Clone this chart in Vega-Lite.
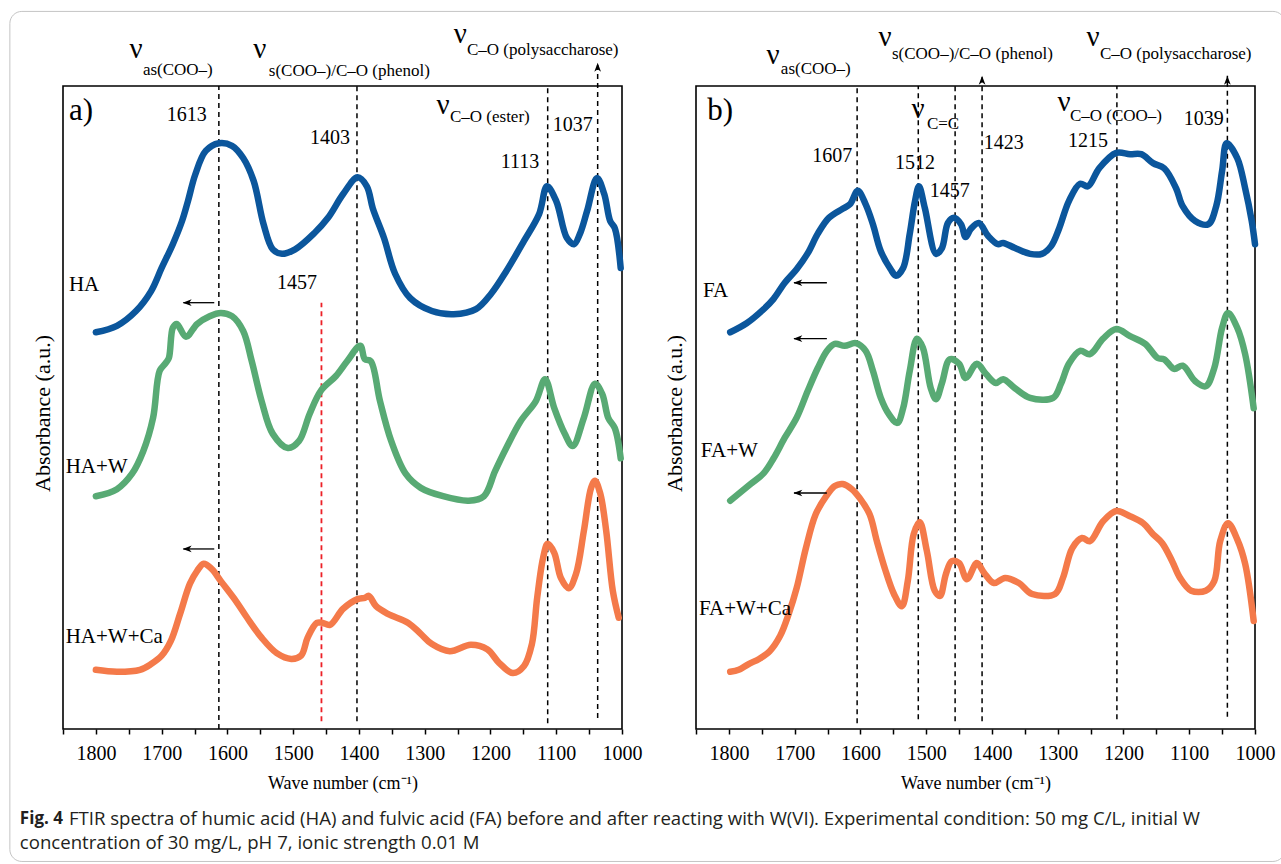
{
  "$schema": "https://vega.github.io/schema/vega-lite/v6.json",
  "background": "white",
  "padding": {"left": 8, "top": 10, "right": 0, "bottom": 0},
  "autosize": {"type": "pad"},
  "spacing": 74,
  "bounds": "flush",
  "config": {
    "view": {"stroke": "black", "strokeWidth": 1.6},
    "text": {"font": "Liberation Serif", "color": "black"}
  },
  "hconcat": [
    {
      "width": 559,
      "height": 643,
      "encoding": {
        "x": {"field": "w", "type": "quantitative", "scale": {"domain": [1000, 1850], "reverse": true, "nice": false, "zero": false},
          "axis": {"title": "Wave number (cm⁻¹)", "values": [1000,1050,1100,1150,1200,1250,1300,1350,1400,1450,1500,1550,1600,1650,1700,1750,1800,1850], "format": "d", "labelExpr": "datum.value % 100 === 0 ? datum.label : ''", "grid": false, "domain": false, "tickSize": 5, "tickWidth": 1.5, "tickColor": "black", "labelFont": "Liberation Serif", "labelFontSize": 20, "labelColor": "black", "labelPadding": 9, "labelFlush": false, "labelOverlap": false, "titleFont": "Liberation Serif", "titleFontSize": 18, "titleFontWeight": "normal", "titleColor": "black", "titleY": 54, "titleBaseline": "middle"}},
        "y": {"field": "v", "type": "quantitative", "scale": {"domain": [0, 100], "nice": false, "zero": false},
          "axis": {"title": "Absorbance (a.u.)", "labels": false, "ticks": false, "domain": false, "grid": false, "titleX": -21, "titleY": 327, "titleAngle": -90, "titleAlign": "center", "titleBaseline": "middle", "titleFont": "Liberation Serif", "titleFontSize": 22, "titleFontWeight": "normal", "titleColor": "black"}}
      },
      "layer": [
        {
          "data": {"values": [{"w": 1930.8, "w2": -8, "v": 111.6, "v2": -20.6}]},
          "mark": {"type": "rect", "fill": "transparent", "stroke": "#c4c4c4", "strokeWidth": 1, "cornerRadius": 12},
          "encoding": {"x2": {"field": "w2"}, "y2": {"field": "v2"}}
        },
        {
          "data": {"values": [
            {"w": 1613, "v": 0, "v2": 100}, {"w": 1403, "v": 1.2, "v2": 100}, {"w": 1113, "v": 0.9, "v2": 100}, {"w": 1037, "v": 1.7, "v2": 103.6}
          ]},
          "mark": {"type": "rule", "color": "black", "strokeWidth": 1.5, "strokeDash": [5, 4]},
          "encoding": {"y2": {"field": "v2"}}
        },
        {
          "data": {"values": [{"w": 1457, "v": 1.2, "v2": 66.3}]},
          "mark": {"type": "rule", "color": "#ec2027", "strokeWidth": 1.8, "strokeDash": [5, 4]},
          "encoding": {"y2": {"field": "v2"}}
        },
        {
          "data": {"values": [
            {"s":"HA","w":1800,"v":61.7},{"s":"HA","w":1768,"v":62.7},{"s":"HA","w":1739,"v":65.0},{"s":"HA","w":1716,"v":68.1},{"s":"HA","w":1700,"v":71.7},{"s":"HA","w":1683,"v":75.4},{"s":"HA","w":1669,"v":79.0},{"s":"HA","w":1660,"v":82.1},{"s":"HA","w":1649,"v":86.2},{"s":"HA","w":1633,"v":89.9},{"s":"HA","w":1613,"v":91.1},{"s":"HA","w":1593,"v":90.7},{"s":"HA","w":1576,"v":88.8},{"s":"HA","w":1560,"v":85.2},{"s":"HA","w":1545,"v":78.5},{"s":"HA","w":1531,"v":74.6},{"s":"HA","w":1517,"v":73.9},{"s":"HA","w":1497,"v":74.6},{"s":"HA","w":1468,"v":77.1},{"s":"HA","w":1447,"v":79.5},{"s":"HA","w":1424,"v":83.2},{"s":"HA","w":1402,"v":85.8},{"s":"HA","w":1388,"v":84.4},{"s":"HA","w":1379,"v":81.0},{"s":"HA","w":1362,"v":76.4},{"s":"HA","w":1345,"v":70.8},{"s":"HA","w":1322,"v":67.0},{"s":"HA","w":1289,"v":65.0},{"s":"HA","w":1256,"v":64.5},{"s":"HA","w":1222,"v":65.3},{"s":"HA","w":1199,"v":67.7},{"s":"HA","w":1176,"v":71.2},{"s":"HA","w":1149,"v":75.9},{"s":"HA","w":1126,"v":80.1},{"s":"HA","w":1114,"v":84.4},{"s":"HA","w":1100,"v":82.1},{"s":"HA","w":1084,"v":76.4},{"s":"HA","w":1073,"v":75.4},{"s":"HA","w":1064,"v":77.0},{"s":"HA","w":1053,"v":80.6},{"s":"HA","w":1038,"v":85.7},{"s":"HA","w":1027,"v":83.2},{"s":"HA","w":1018,"v":79.0},{"s":"HA","w":1011,"v":77.9},{"s":"HA","w":1002,"v":71.7},
            {"s":"HA+W","w":1800,"v":36.2},{"s":"HA+W","w":1768,"v":37.3},{"s":"HA+W","w":1745,"v":39.7},{"s":"HA+W","w":1728,"v":43.2},{"s":"HA+W","w":1713,"v":48.4},{"s":"HA+W","w":1703,"v":55.7},{"s":"HA+W","w":1694,"v":56.9},{"s":"HA+W","w":1689,"v":57.7},{"s":"HA+W","w":1683,"v":62.4},{"s":"HA+W","w":1677,"v":63.0},{"s":"HA+W","w":1663,"v":61.0},{"s":"HA+W","w":1646,"v":63.0},{"s":"HA+W","w":1627,"v":64.2},{"s":"HA+W","w":1610,"v":64.7},{"s":"HA+W","w":1593,"v":64.2},{"s":"HA+W","w":1576,"v":61.9},{"s":"HA+W","w":1563,"v":57.2},{"s":"HA+W","w":1548,"v":51.0},{"s":"HA+W","w":1531,"v":45.9},{"s":"HA+W","w":1508,"v":43.7},{"s":"HA+W","w":1491,"v":44.8},{"s":"HA+W","w":1475,"v":49.0},{"s":"HA+W","w":1458,"v":52.6},{"s":"HA+W","w":1435,"v":54.9},{"s":"HA+W","w":1418,"v":57.2},{"s":"HA+W","w":1398,"v":59.6},{"s":"HA+W","w":1391,"v":57.5},{"s":"HA+W","w":1382,"v":57.2},{"s":"HA+W","w":1368,"v":51.0},{"s":"HA+W","w":1351,"v":44.8},{"s":"HA+W","w":1329,"v":39.7},{"s":"HA+W","w":1306,"v":37.5},{"s":"HA+W","w":1272,"v":36.2},{"s":"HA+W","w":1233,"v":35.5},{"s":"HA+W","w":1210,"v":36.2},{"s":"HA+W","w":1193,"v":40.1},{"s":"HA+W","w":1176,"v":43.7},{"s":"HA+W","w":1154,"v":47.9},{"s":"HA+W","w":1131,"v":51.0},{"s":"HA+W","w":1117,"v":54.4},{"s":"HA+W","w":1103,"v":49.9},{"s":"HA+W","w":1087,"v":45.9},{"s":"HA+W","w":1075,"v":44.0},{"s":"HA+W","w":1058,"v":48.4},{"s":"HA+W","w":1041,"v":53.7},{"s":"HA+W","w":1030,"v":52.1},{"s":"HA+W","w":1021,"v":48.4},{"s":"HA+W","w":1011,"v":46.8},{"s":"HA+W","w":1002,"v":42.1},
            {"s":"HA+W+Ca","w":1800,"v":9.2},{"s":"HA+W+Ca","w":1768,"v":8.9},{"s":"HA+W+Ca","w":1733,"v":9.2},{"s":"HA+W+Ca","w":1716,"v":10.1},{"s":"HA+W+Ca","w":1700,"v":11.4},{"s":"HA+W+Ca","w":1686,"v":13.7},{"s":"HA+W+Ca","w":1672,"v":17.9},{"s":"HA+W+Ca","w":1657,"v":22.6},{"s":"HA+W+Ca","w":1646,"v":24.6},{"s":"HA+W+Ca","w":1636,"v":25.7},{"s":"HA+W+Ca","w":1624,"v":24.9},{"s":"HA+W+Ca","w":1610,"v":23.0},{"s":"HA+W+Ca","w":1587,"v":19.9},{"s":"HA+W+Ca","w":1570,"v":17.3},{"s":"HA+W+Ca","w":1548,"v":14.2},{"s":"HA+W+Ca","w":1525,"v":11.8},{"s":"HA+W+Ca","w":1503,"v":10.9},{"s":"HA+W+Ca","w":1488,"v":11.4},{"s":"HA+W+Ca","w":1478,"v":14.2},{"s":"HA+W+Ca","w":1464,"v":16.5},{"s":"HA+W+Ca","w":1455,"v":16.5},{"s":"HA+W+Ca","w":1444,"v":16.2},{"s":"HA+W+Ca","w":1424,"v":18.7},{"s":"HA+W+Ca","w":1402,"v":20.2},{"s":"HA+W+Ca","w":1391,"v":20.4},{"s":"HA+W+Ca","w":1385,"v":20.7},{"s":"HA+W+Ca","w":1374,"v":19.1},{"s":"HA+W+Ca","w":1356,"v":17.9},{"s":"HA+W+Ca","w":1325,"v":16.5},{"s":"HA+W+Ca","w":1306,"v":14.8},{"s":"HA+W+Ca","w":1289,"v":13.2},{"s":"HA+W+Ca","w":1262,"v":12.1},{"s":"HA+W+Ca","w":1230,"v":13.1},{"s":"HA+W+Ca","w":1205,"v":12.4},{"s":"HA+W+Ca","w":1187,"v":10.3},{"s":"HA+W+Ca","w":1166,"v":8.7},{"s":"HA+W+Ca","w":1149,"v":9.8},{"s":"HA+W+Ca","w":1137,"v":13.2},{"s":"HA+W+Ca","w":1129,"v":20.4},{"s":"HA+W+Ca","w":1120,"v":26.6},{"s":"HA+W+Ca","w":1113,"v":28.8},{"s":"HA+W+Ca","w":1103,"v":27.4},{"s":"HA+W+Ca","w":1093,"v":23.5},{"s":"HA+W+Ca","w":1081,"v":21.9},{"s":"HA+W+Ca","w":1070,"v":24.1},{"s":"HA+W+Ca","w":1058,"v":30.8},{"s":"HA+W+Ca","w":1047,"v":37.5},{"s":"HA+W+Ca","w":1041,"v":38.6},{"s":"HA+W+Ca","w":1033,"v":36.6},{"s":"HA+W+Ca","w":1024,"v":30.8},{"s":"HA+W+Ca","w":1014,"v":21.5},{"s":"HA+W+Ca","w":1005,"v":17.3}
          ]},
          "mark": {"type": "line", "strokeWidth": 6.5, "interpolate": "catmull-rom", "strokeCap": "round", "strokeJoin": "round"},
          "encoding": {"color": {"field": "s", "type": "nominal", "legend": null, "scale": {"domain": ["HA", "HA+W", "HA+W+Ca"], "range": ["#0b569c", "#58aa74", "#f47a4a"]}}}
        },
        {
          "data": {"values": [{"w": 1667, "w2": 1620, "v": 66.3}, {"w": 1667, "w2": 1620, "v": 28.0}, {"w": 1037, "w2": 1037, "v": 103.6}]},
          "mark": {"type": "rule", "color": "black", "strokeWidth": 1.3},
          "encoding": {"x2": {"field": "w2"}}
        },
        {
          "data": {"values": [{"w": 1668, "v": 66.3}, {"w": 1668, "v": 28.0}]},
          "mark": {"type": "point", "shape": "M0,0L2,-0.75L1.45,0L2,0.75Z", "size": 80, "filled": true, "color": "black", "opacity": 1}
        },
        {
          "data": {"values": [{"w": 1037, "v": 103.6}]},
          "mark": {"type": "point", "shape": "M0,0L-0.75,2L0,1.45L0.75,2Z", "size": 80, "filled": true, "color": "black", "opacity": 1}
        },
        {
          "data": {"values": [{"w": 1662, "v": 95.5, "t": "1613"}, {"w": 1444, "v": 91.9, "t": "1403"}, {"w": 1155, "v": 88.2, "t": "1113"}, {"w": 1075, "v": 93.9, "t": "1037"}, {"w": 1494, "v": 69.4, "t": "1457"}]},
          "mark": {"type": "text", "font": "Liberation Serif", "fontSize": 20, "align": "center", "baseline": "middle"},
          "encoding": {"text": {"field": "t", "type": "nominal"}}
        },
        {
          "data": {"values": [{"w": 1841, "v": 69.1, "t": "HA"}, {"w": 1846, "v": 40.7, "t": "HA+W"}, {"w": 1846, "v": 14.3, "t": "HA+W+Ca"}]},
          "mark": {"type": "text", "font": "Liberation Serif", "fontSize": 21, "align": "left", "baseline": "middle"},
          "encoding": {"text": {"field": "t", "type": "nominal"}}
        },
        {
          "data": {"values": [{"w": 1841, "v": 96.1, "t": "a)"}]},
          "mark": {"type": "text", "font": "Liberation Serif", "fontSize": 31, "align": "left", "baseline": "middle"},
          "encoding": {"text": {"field": "t", "type": "nominal"}}
        },
        {
          "data": {"values": [{"w": 1739, "v": 104.4, "t": "ν"}, {"w": 1550.6, "v": 104.4, "t": "ν"}, {"w": 1246, "v": 106.7, "t": "ν"}, {"w": 1272, "v": 95.6, "t": "ν"}]},
          "mark": {"type": "text", "font": "Liberation Serif", "fontSize": 29, "align": "center", "baseline": "alphabetic"},
          "encoding": {"text": {"field": "t", "type": "nominal"}}
        },
        {
          "data": {"values": [{"w": 1728.5, "v": 101.7, "t": "as(COO–)"}, {"w": 1537, "v": 101.6, "t": "s(COO–)/C–O (phenol)"}, {"w": 1235.7, "v": 104.8, "t": "C–O (polysaccharose)"}, {"w": 1261.6, "v": 94.4, "t": "C–O (ester)"}]},
          "mark": {"type": "text", "font": "Liberation Serif", "fontSize": 17, "align": "left", "baseline": "alphabetic"},
          "encoding": {"text": {"field": "t", "type": "nominal"}}
        },
        {
          "data": {"values": [{"w": 1915.6, "v": -14.0, "t": "Fig. 4"}]},
          "mark": {"type": "text", "font": "Open Sans", "fontWeight": "bold", "fontSize": 17, "align": "left", "baseline": "middle", "color": "#231f20"},
          "encoding": {"text": {"field": "t", "type": "nominal"}}
        },
        {
          "data": {"values": [{"w": 1841, "v": -14.0, "t": "FTIR spectra of humic acid (HA) and fulvic acid (FA) before and after reacting with W(VI). Experimental condition: 50 mg C/L, initial W"}, {"w": 1915.6, "v": -17.8, "t": "concentration of 30 mg/L, pH 7, ionic strength 0.01 M"}]},
          "mark": {"type": "text", "font": "Open Sans", "fontSize": 18.6, "align": "left", "baseline": "middle", "color": "#231f20"},
          "encoding": {"text": {"field": "t", "type": "nominal"}}
        }
      ]
    },
    {
      "width": 559,
      "height": 643,
      "encoding": {
        "x": {"field": "w", "type": "quantitative", "scale": {"domain": [1000, 1850], "reverse": true, "nice": false, "zero": false},
          "axis": {"title": "Wave number (cm⁻¹)", "values": [1000,1050,1100,1150,1200,1250,1300,1350,1400,1450,1500,1550,1600,1650,1700,1750,1800,1850], "format": "d", "labelExpr": "datum.value % 100 === 0 ? datum.label : ''", "grid": false, "domain": false, "tickSize": 5, "tickWidth": 1.5, "tickColor": "black", "labelFont": "Liberation Serif", "labelFontSize": 20, "labelColor": "black", "labelPadding": 9, "labelFlush": false, "labelOverlap": false, "titleFont": "Liberation Serif", "titleFontSize": 18, "titleFontWeight": "normal", "titleColor": "black", "titleY": 54, "titleBaseline": "middle"}},
        "y": {"field": "v", "type": "quantitative", "scale": {"domain": [0, 100], "nice": false, "zero": false},
          "axis": {"title": "Absorbance (a.u.)", "labels": false, "ticks": false, "domain": false, "grid": false, "titleX": -22, "titleY": 327, "titleAngle": -90, "titleAlign": "center", "titleBaseline": "middle", "titleFont": "Liberation Serif", "titleFontSize": 22, "titleFontWeight": "normal", "titleColor": "black"}}
      },
      "layer": [
        {
          "data": {"values": [
            {"w": 1605, "v": 0.9, "v2": 100}, {"w": 1512, "v": 1.5, "v2": 100}, {"w": 1456, "v": 1.2, "v2": 100}, {"w": 1415, "v": 1.2, "v2": 101.6}, {"w": 1210, "v": 1.5, "v2": 100}, {"w": 1042, "v": 1.9, "v2": 101.6}
          ]},
          "mark": {"type": "rule", "color": "black", "strokeWidth": 1.5, "strokeDash": [5, 4]},
          "encoding": {"y2": {"field": "v2"}}
        },
        {
          "data": {"values": [
            {"s":"FA","w":1798,"v":61.7},{"s":"FA","w":1773,"v":63.1},{"s":"FA","w":1747,"v":65.3},{"s":"FA","w":1732,"v":66.9},{"s":"FA","w":1715,"v":69.4},{"s":"FA","w":1697,"v":71.5},{"s":"FA","w":1680,"v":74.0},{"s":"FA","w":1665,"v":77.0},{"s":"FA","w":1648,"v":79.5},{"s":"FA","w":1627,"v":80.9},{"s":"FA","w":1616,"v":81.6},{"s":"FA","w":1604,"v":83.7},{"s":"FA","w":1592,"v":81.6},{"s":"FA","w":1581,"v":78.5},{"s":"FA","w":1569,"v":74.3},{"s":"FA","w":1554,"v":71.5},{"s":"FA","w":1546,"v":70.5},{"s":"FA","w":1535,"v":71.7},{"s":"FA","w":1525,"v":77.0},{"s":"FA","w":1517,"v":82.1},{"s":"FA","w":1511,"v":84.4},{"s":"FA","w":1502,"v":81.0},{"s":"FA","w":1485,"v":73.9},{"s":"FA","w":1476,"v":74.8},{"s":"FA","w":1467,"v":78.7},{"s":"FA","w":1458,"v":79.5},{"s":"FA","w":1447,"v":78.5},{"s":"FA","w":1440,"v":76.5},{"s":"FA","w":1432,"v":77.8},{"s":"FA","w":1420,"v":78.7},{"s":"FA","w":1406,"v":76.7},{"s":"FA","w":1391,"v":75.4},{"s":"FA","w":1383,"v":75.6},{"s":"FA","w":1365,"v":74.8},{"s":"FA","w":1342,"v":73.9},{"s":"FA","w":1324,"v":73.9},{"s":"FA","w":1310,"v":75.1},{"s":"FA","w":1298,"v":77.8},{"s":"FA","w":1283,"v":82.1},{"s":"FA","w":1266,"v":84.8},{"s":"FA","w":1254,"v":84.4},{"s":"FA","w":1237,"v":87.2},{"s":"FA","w":1211,"v":89.6},{"s":"FA","w":1190,"v":89.4},{"s":"FA","w":1173,"v":89.4},{"s":"FA","w":1155,"v":88.0},{"s":"FA","w":1138,"v":87.2},{"s":"FA","w":1120,"v":84.1},{"s":"FA","w":1110,"v":81.3},{"s":"FA","w":1091,"v":79.0},{"s":"FA","w":1071,"v":78.5},{"s":"FA","w":1059,"v":81.3},{"s":"FA","w":1050,"v":86.8},{"s":"FA","w":1043,"v":91.1},{"s":"FA","w":1027,"v":88.8},{"s":"FA","w":1015,"v":84.1},{"s":"FA","w":1005,"v":79.0},{"s":"FA","w":1000,"v":75.4},
            {"s":"FA+W","w":1798,"v":35.5},{"s":"FA+W","w":1767,"v":38.1},{"s":"FA+W","w":1747,"v":39.8},{"s":"FA+W","w":1732,"v":42.1},{"s":"FA+W","w":1715,"v":45.3},{"s":"FA+W","w":1697,"v":48.4},{"s":"FA+W","w":1680,"v":52.6},{"s":"FA+W","w":1665,"v":56.1},{"s":"FA+W","w":1651,"v":58.8},{"s":"FA+W","w":1639,"v":59.9},{"s":"FA+W","w":1624,"v":59.6},{"s":"FA+W","w":1607,"v":60.0},{"s":"FA+W","w":1592,"v":58.8},{"s":"FA+W","w":1581,"v":55.7},{"s":"FA+W","w":1569,"v":51.5},{"s":"FA+W","w":1557,"v":49.0},{"s":"FA+W","w":1544,"v":47.6},{"s":"FA+W","w":1535,"v":49.9},{"s":"FA+W","w":1525,"v":55.7},{"s":"FA+W","w":1514,"v":60.7},{"s":"FA+W","w":1505,"v":59.3},{"s":"FA+W","w":1493,"v":53.0},{"s":"FA+W","w":1485,"v":51.3},{"s":"FA+W","w":1476,"v":53.8},{"s":"FA+W","w":1464,"v":57.5},{"s":"FA+W","w":1450,"v":56.8},{"s":"FA+W","w":1440,"v":54.6},{"s":"FA+W","w":1423,"v":56.8},{"s":"FA+W","w":1409,"v":55.2},{"s":"FA+W","w":1394,"v":53.8},{"s":"FA+W","w":1383,"v":54.4},{"s":"FA+W","w":1365,"v":53.0},{"s":"FA+W","w":1342,"v":51.5},{"s":"FA+W","w":1307,"v":51.5},{"s":"FA+W","w":1295,"v":53.7},{"s":"FA+W","w":1283,"v":56.8},{"s":"FA+W","w":1266,"v":58.8},{"s":"FA+W","w":1251,"v":58.3},{"s":"FA+W","w":1231,"v":60.7},{"s":"FA+W","w":1211,"v":62.2},{"s":"FA+W","w":1190,"v":61.1},{"s":"FA+W","w":1167,"v":59.9},{"s":"FA+W","w":1148,"v":57.7},{"s":"FA+W","w":1138,"v":57.5},{"s":"FA+W","w":1123,"v":56.0},{"s":"FA+W","w":1110,"v":56.5},{"s":"FA+W","w":1091,"v":54.1},{"s":"FA+W","w":1075,"v":53.3},{"s":"FA+W","w":1062,"v":56.1},{"s":"FA+W","w":1050,"v":62.4},{"s":"FA+W","w":1041,"v":64.7},{"s":"FA+W","w":1027,"v":62.4},{"s":"FA+W","w":1015,"v":58.3},{"s":"FA+W","w":1002,"v":49.9},
            {"s":"FA+W+Ca","w":1798,"v":8.9},{"s":"FA+W+Ca","w":1785,"v":9.2},{"s":"FA+W+Ca","w":1770,"v":10.1},{"s":"FA+W+Ca","w":1754,"v":10.9},{"s":"FA+W+Ca","w":1738,"v":12.1},{"s":"FA+W+Ca","w":1722,"v":14.5},{"s":"FA+W+Ca","w":1709,"v":17.9},{"s":"FA+W+Ca","w":1697,"v":21.9},{"s":"FA+W+Ca","w":1683,"v":28.1},{"s":"FA+W+Ca","w":1668,"v":33.4},{"s":"FA+W+Ca","w":1652,"v":36.2},{"s":"FA+W+Ca","w":1639,"v":37.8},{"s":"FA+W+Ca","w":1627,"v":38.1},{"s":"FA+W+Ca","w":1613,"v":37.3},{"s":"FA+W+Ca","w":1601,"v":35.9},{"s":"FA+W+Ca","w":1586,"v":33.4},{"s":"FA+W+Ca","w":1575,"v":29.2},{"s":"FA+W+Ca","w":1563,"v":25.0},{"s":"FA+W+Ca","w":1549,"v":21.0},{"s":"FA+W+Ca","w":1537,"v":19.1},{"s":"FA+W+Ca","w":1528,"v":23.0},{"s":"FA+W+Ca","w":1519,"v":30.3},{"s":"FA+W+Ca","w":1510,"v":32.2},{"s":"FA+W+Ca","w":1499,"v":27.7},{"s":"FA+W+Ca","w":1487,"v":21.5},{"s":"FA+W+Ca","w":1479,"v":20.7},{"s":"FA+W+Ca","w":1470,"v":24.1},{"s":"FA+W+Ca","w":1461,"v":26.1},{"s":"FA+W+Ca","w":1450,"v":25.8},{"s":"FA+W+Ca","w":1438,"v":23.3},{"s":"FA+W+Ca","w":1423,"v":25.8},{"s":"FA+W+Ca","w":1412,"v":24.3},{"s":"FA+W+Ca","w":1397,"v":22.7},{"s":"FA+W+Ca","w":1380,"v":23.5},{"s":"FA+W+Ca","w":1359,"v":22.7},{"s":"FA+W+Ca","w":1339,"v":21.0},{"s":"FA+W+Ca","w":1304,"v":21.0},{"s":"FA+W+Ca","w":1292,"v":23.5},{"s":"FA+W+Ca","w":1278,"v":28.1},{"s":"FA+W+Ca","w":1263,"v":29.7},{"s":"FA+W+Ca","w":1251,"v":29.2},{"s":"FA+W+Ca","w":1231,"v":32.3},{"s":"FA+W+Ca","w":1211,"v":33.9},{"s":"FA+W+Ca","w":1190,"v":33.1},{"s":"FA+W+Ca","w":1170,"v":32.0},{"s":"FA+W+Ca","w":1155,"v":30.3},{"s":"FA+W+Ca","w":1141,"v":28.9},{"s":"FA+W+Ca","w":1126,"v":26.1},{"s":"FA+W+Ca","w":1114,"v":23.5},{"s":"FA+W+Ca","w":1097,"v":21.5},{"s":"FA+W+Ca","w":1075,"v":21.5},{"s":"FA+W+Ca","w":1062,"v":23.0},{"s":"FA+W+Ca","w":1053,"v":29.2},{"s":"FA+W+Ca","w":1041,"v":32.0},{"s":"FA+W+Ca","w":1027,"v":29.5},{"s":"FA+W+Ca","w":1015,"v":25.7},{"s":"FA+W+Ca","w":1002,"v":16.8}
          ]},
          "mark": {"type": "line", "strokeWidth": 6.5, "interpolate": "catmull-rom", "strokeCap": "round", "strokeJoin": "round"},
          "encoding": {"color": {"field": "s", "type": "nominal", "legend": null, "scale": {"domain": ["FA", "FA+W", "FA+W+Ca"], "range": ["#0b569c", "#58aa74", "#f47a4a"]}}}
        },
        {
          "data": {"values": [{"w": 1701, "w2": 1651, "v": 69.4}, {"w": 1701, "w2": 1651, "v": 60.7}, {"w": 1701, "w2": 1651, "v": 36.7}]},
          "mark": {"type": "rule", "color": "black", "strokeWidth": 1.3},
          "encoding": {"x2": {"field": "w2"}}
        },
        {
          "data": {"values": [{"w": 1702, "v": 69.4}, {"w": 1702, "v": 60.7}, {"w": 1702, "v": 36.7}]},
          "mark": {"type": "point", "shape": "M0,0L2,-0.75L1.45,0L2,0.75Z", "size": 80, "filled": true, "color": "black", "opacity": 1}
        },
        {
          "data": {"values": [{"w": 1415, "v": 101.6}, {"w": 1042, "v": 101.6}]},
          "mark": {"type": "point", "shape": "M0,0L-0.75,2L0,1.45L0.75,2Z", "size": 80, "filled": true, "color": "black", "opacity": 1}
        },
        {
          "data": {"values": [{"w": 1643, "v": 89.1, "t": "1607"}, {"w": 1517, "v": 88.0, "t": "1512"}, {"w": 1464, "v": 83.7, "t": "1457"}, {"w": 1382, "v": 91.1, "t": "1423"}, {"w": 1254, "v": 91.4, "t": "1215"}, {"w": 1078, "v": 94.9, "t": "1039"}]},
          "mark": {"type": "text", "font": "Liberation Serif", "fontSize": 20, "align": "center", "baseline": "middle"},
          "encoding": {"text": {"field": "t", "type": "nominal"}}
        },
        {
          "data": {"values": [{"w": 1839.5, "v": 68.1, "t": "FA"}, {"w": 1842.6, "v": 43.2, "t": "FA+W"}, {"w": 1845.6, "v": 18.7, "t": "FA+W+Ca"}]},
          "mark": {"type": "text", "font": "Liberation Serif", "fontSize": 21, "align": "left", "baseline": "middle"},
          "encoding": {"text": {"field": "t", "type": "nominal"}}
        },
        {
          "data": {"values": [{"w": 1833, "v": 96.1, "t": "b)"}]},
          "mark": {"type": "text", "font": "Liberation Serif", "fontSize": 31, "align": "left", "baseline": "middle"},
          "encoding": {"text": {"field": "t", "type": "nominal"}}
        },
        {
          "data": {"values": [{"w": 1733, "v": 103.4, "t": "ν"}, {"w": 1562.7, "v": 106.2, "t": "ν"}, {"w": 1246.4, "v": 106.2, "t": "ν"}, {"w": 1512.5, "v": 95.0, "t": "ν"}, {"w": 1290.5, "v": 96.1, "t": "ν"}]},
          "mark": {"type": "text", "font": "Liberation Serif", "fontSize": 29, "align": "center", "baseline": "alphabetic"},
          "encoding": {"text": {"field": "t", "type": "nominal"}}
        },
        {
          "data": {"values": [{"w": 1721, "v": 101.9, "t": "as(COO–)"}, {"w": 1552, "v": 104.2, "t": "s(COO–)/C–O (phenol)"}, {"w": 1235.7, "v": 104.2, "t": "C–O (polysaccharose)"}, {"w": 1498.9, "v": 93.3, "t": "C=C"}, {"w": 1281.4, "v": 94.6, "t": "C–O (COO–)"}]},
          "mark": {"type": "text", "font": "Liberation Serif", "fontSize": 17, "align": "left", "baseline": "alphabetic"},
          "encoding": {"text": {"field": "t", "type": "nominal"}}
        }
      ]
    }
  ]
}
